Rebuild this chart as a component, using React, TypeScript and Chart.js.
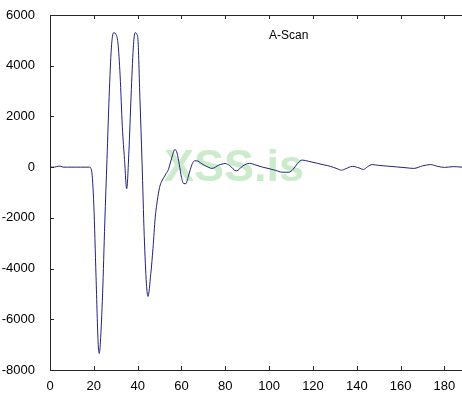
import React, { useEffect, useRef } from "react";
import { Chart, registerables } from "chart.js";

Chart.register(...registerables);

const xs: number[] = [
  0, 2, 4, 5, 6, 8, 10, 12, 14, 16, 18, 19, 20, 21, 22, 22.5, 23, 24, 25, 26, 27, 28, 29, 30, 31, 32, 33, 34, 35,
  36, 37, 38, 38.8, 40, 41, 42, 43, 44, 44.7, 46, 47, 48, 49, 50, 51, 52, 53, 54, 55, 56, 57, 58, 59, 60, 61, 62,
  63, 64, 65, 66, 67, 69, 71, 74, 77, 80, 82, 85, 88, 91, 94, 97, 100, 103, 106, 109, 111, 113, 115, 118, 122,
  125, 128, 131, 133, 135, 138, 141, 143, 145, 147, 150, 154, 158, 162, 166, 170, 173.6, 177, 180, 184, 188,
];
const ys: number[] = [
  0, 0, 40, 30, 0, 0, 0, 0, 0, 0, 0, -150, -1500, -4300, -7000, -7350, -6900, -5000, -2200, 300, 2800, 4700, 5300,
  5250, 4900, 3600, 1600, 300, -850, 600, 2800, 4700, 5300, 5150, 2800, 200, -2700, -4600, -5100, -4200, -3200,
  -2000, -1300, -800, -550, -400, -250, -100, 200, 500, 700, 550, 100, -400, -650, -650, -400, -100, 150, 250,
  250, 150, 50, -50, 80, 140, 60, -150, 50, 150, 80, 0, -60, -130, -200, -200, -80, 150, 280, 230, 150, 90, 30,
  -60, -120, -60, 30, -30, -90, 20, 100, 70, 40, 10, -20, -50, 50, 100, 30, -10, 20, 0,
];
const xTicks: number[] = [0, 20, 40, 60, 80, 100, 120, 140, 160, 180];
const yTicks: number[] = [-8000, -6000, -4000, -2000, 0, 2000, 4000, 6000];
const titleText = "A-Scan";
const watermarkText = "XSS.is";

export default function App() {
  const ref = useRef<HTMLCanvasElement | null>(null);
  useEffect(() => {
    document.body.style.margin = "0";
    const canvas = ref.current;
    if (!canvas) return;
    const framePlugin = {
      id: "frame",
      beforeDatasetsDraw(chart: any) {
        const { ctx } = chart;
        ctx.save();
        ctx.font = "bold 45px 'Liberation Sans', Arial, sans-serif";
        ctx.fillStyle = "rgba(140, 210, 140, 0.45)";
        ctx.textBaseline = "middle";
        ctx.fillText(watermarkText, 164, 169);
        ctx.restore();
      },
      afterDatasetsDraw(chart: any) {
        const { ctx, chartArea, scales } = chart;
        const { left, right, top, bottom } = chartArea;
        ctx.save();
        ctx.strokeStyle = "#262626";
        ctx.lineWidth = 1;
        ctx.beginPath();
        ctx.moveTo(left + 0.5, top + 0.5);
        ctx.lineTo(right, top + 0.5);
        ctx.moveTo(left + 0.5, top);
        ctx.lineTo(left + 0.5, bottom + 0.5);
        ctx.lineTo(right, bottom + 0.5);
        const tl = 4;
        for (const v of xTicks) {
          const px = Math.round(scales.x.getPixelForValue(v)) + 0.5;
          ctx.moveTo(px, bottom);
          ctx.lineTo(px, bottom - tl);
          ctx.moveTo(px, top);
          ctx.lineTo(px, top + tl);
        }
        for (const v of yTicks) {
          const py = Math.round(scales.y.getPixelForValue(v)) + 0.5;
          ctx.moveTo(left, py);
          ctx.lineTo(left + tl, py);
        }
        ctx.stroke();
        ctx.fillStyle = "#000";
        ctx.font = "12px 'Liberation Sans', Arial, sans-serif";
        ctx.textBaseline = "alphabetic";
        ctx.fillText(titleText, 269, 39);
        ctx.restore();
      },
    };
    const chart = new Chart(canvas, {
      type: "line",
      data: {
        datasets: [
          {
            data: xs.map((x, i) => ({ x, y: ys[i] })),
            borderColor: "#22227a",
            borderWidth: 1,
            pointRadius: 0,
            cubicInterpolationMode: "monotone",
            fill: false,
          },
        ],
      },
      options: {
        animation: false,
        responsive: false,
        maintainAspectRatio: false,
        layout: { padding: { top: 15, right: 0, left: 0, bottom: 0 } },
        plugins: { legend: { display: false }, tooltip: { enabled: false }, title: { display: false } },
        scales: {
          x: {
            type: "linear",
            min: 0,
            max: 188,
            afterBuildTicks(scale: any) {
              scale.ticks = xTicks.map((v) => ({ value: v }));
            },
            afterFit(scale: any) {
              scale.height = 32;
            },
            grid: { display: false },
            border: { display: false },
            ticks: {
              color: "#000",
              padding: 1,
              maxRotation: 0,
              font: { family: "'Liberation Sans', Arial, sans-serif", size: 13 },
            },
          },
          y: {
            type: "linear",
            min: -8000,
            max: 6000,
            afterBuildTicks(scale: any) {
              scale.ticks = yTicks.map((v) => ({ value: v }));
            },
            afterFit(scale: any) {
              scale.width = 50;
            },
            grid: { display: false },
            border: { display: false },
            ticks: {
              color: "#000",
              padding: 7,
              font: { family: "'Liberation Sans', Arial, sans-serif", size: 13 },
              callback: (v: any) => String(v),
            },
          },
        },
      },
      plugins: [framePlugin],
    });
    return () => chart.destroy();
  }, []);
  return (
    <div style={{ position: "fixed", left: 0, top: 0, width: 462, height: 402, background: "#fff" }}>
      <canvas ref={ref} width={462} height={402} style={{ width: 462, height: 402 }} />
    </div>
  );
}
